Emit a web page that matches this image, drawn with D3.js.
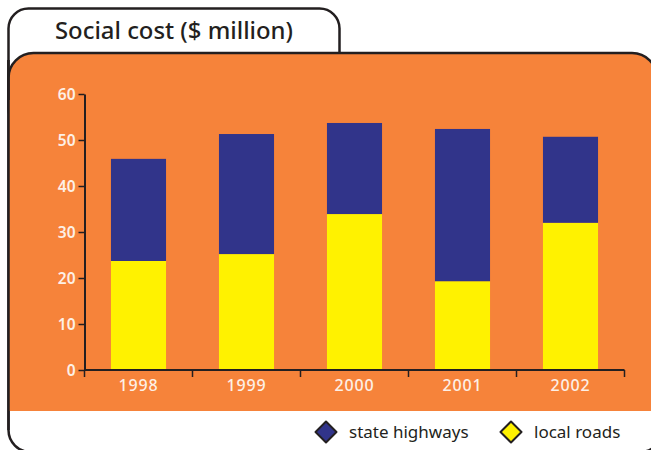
<!DOCTYPE html>
<html><head><meta charset="utf-8">
<script src="https://cdn.jsdelivr.net/npm/d3@7"></script>
<style>body{margin:0;background:#fff}svg{display:block}</style>
</head><body>
<script>
const years = ["1998","1999","2000","2001","2002"];
const localRoads = [23.7, 25.2, 33.9, 19.3, 32.0];
const stateHighways = [22.2, 26.1, 19.8, 33.1, 18.7];
const yTicks = [0,10,20,30,40,50,60];
const seriesNames = ["state highways","local roads"];
const colors = {"state highways":"#31348a","local roads":"#fff200"};

const W=651,H=450;
const svg=d3.select("body").append("svg").attr("width",W).attr("height",H);
const dark="#231f20", orange="#f6833a", light="#fdf0e6";

// frame
svg.append("rect").attr("x",8.5).attr("y",8.5).attr("width",331).attr("height",120).attr("rx",20)
  .attr("fill","#fff").attr("stroke",dark).attr("stroke-width",2.5);
svg.append("path").attr("d","M8.5,60 V430 A22,22 0 0 0 30.5,452 H640 A22,22 0 0 0 662,430 V60")
  .attr("fill","#fff").attr("stroke",dark).attr("stroke-width",2.5);
svg.append("path").attr("d","M8.5,411 V78 A25,25 0 0 1 33.5,53 H632 A25,25 0 0 1 657,78 V411 Z")
  .attr("fill",orange);
svg.append("path").attr("d","M8.5,100 V78 A25,25 0 0 1 33.5,53 H632 A25,25 0 0 1 657,78")
  .attr("fill","none").attr("stroke",dark).attr("stroke-width",2.5);
svg.append("line").attr("x1",8.5).attr("x2",8.5).attr("y1",60).attr("y2",430).attr("stroke",dark).attr("stroke-width",2.5);

svg.append("text").attr("x",55).attr("y",39).text("Social cost ($ million)")
  .attr("font-family","Noto Sans").attr("font-size",24).attr("font-weight",500).attr("fill",dark)
  .attr("textLength",238).attr("lengthAdjust","spacingAndGlyphs");

const x=d3.scaleBand().domain(years).range([84.5,624.5]).paddingInner(0.49).paddingOuter(0.245);
const y=d3.scaleLinear().domain([0,60]).range([370,94]);

const data=years.map((yr,i)=>({year:yr,"local roads":localRoads[i],"state highways":stateHighways[i]}));
const stack=d3.stack().keys(["local roads","state highways"])(data);
svg.append("g").selectAll("g").data(stack).join("g").attr("fill",d=>colors[d.key])
  .selectAll("rect").data(d=>d).join("rect")
  .attr("x",d=>x(d.data.year)).attr("width",x.bandwidth())
  .attr("y",d=>y(d[1])).attr("height",d=>y(d[0])-y(d[1]));

const font="Noto Sans";
const ya=svg.append("g").attr("transform","translate(84.5,0)")
  .call(d3.axisLeft(y).tickValues(yTicks).tickSize(6).tickSizeOuter(0).tickPadding(3));
ya.select(".domain").attr("stroke",dark).attr("stroke-width",2);
ya.selectAll(".tick line").attr("stroke",dark).attr("stroke-width",1.5);
ya.selectAll("text").attr("fill",light).attr("font-family",font).attr("font-size",15.5).attr("font-weight",600)
  .attr("dy","0.36em");

// x axis
const xa=svg.append("g").attr("transform","translate(0,370)");
xa.append("line").attr("x1",84.5).attr("x2",624.5).attr("stroke",dark).attr("stroke-width",2);
const edges=years.map(d=>x(d)-x.step()*x.paddingInner()/2).concat([624.5]);
edges[0]=84.5;
xa.selectAll(".tk").data(edges).join("line").attr("x1",d=>d).attr("x2",d=>d).attr("y1",0).attr("y2",7)
  .attr("stroke",dark).attr("stroke-width",1.5);
xa.selectAll("text").data(years).join("text").attr("x",d=>x(d)+x.bandwidth()/2).attr("y",21)
  .attr("text-anchor","middle").text(d=>d).attr("letter-spacing",0.8)
  .attr("fill",light).attr("font-family",font).attr("font-size",16).attr("font-weight",500);

// legend
const legX=[326,511];
const lg=svg.append("g");
seriesNames.forEach((s,i)=>{
  const g=lg.append("g").attr("transform",`translate(${legX[i]},432)`);
  g.append("path").attr("d","M0,-10.5 L10.5,0 L0,10.5 L-10.5,0 Z").attr("fill",colors[s])
    .attr("stroke",dark).attr("stroke-width",2).attr("stroke-linejoin","round");
  g.append("text").attr("x",23).attr("y",6).text(s).attr("fill",dark)
    .attr("font-family",font).attr("font-size",17);
});
</script>
</body></html>
